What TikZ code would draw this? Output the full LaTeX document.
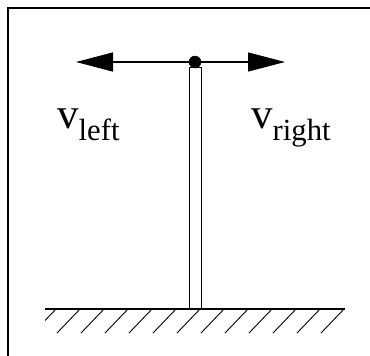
\documentclass[tikz,border=0pt]{standalone}
\usepackage{fontspec}
\setmainfont{Liberation Serif}
\usetikzlibrary{arrows.meta}
\begin{document}
\begin{tikzpicture}[x=1pt,y=-1pt,
  frameline/.style={line width=1.2pt},
  groundline/.style={line width=2pt},
  hatchline/.style={line width=0.9pt},
  poleline/.style={line width=0.9pt},
  velarrow/.style={line width=1.3pt,{Triangle[length=37pt,width=19pt]}-{Triangle[length=37pt,width=19pt]}},
  vlabel/.style={inner sep=0pt,anchor=base west,font=\fontsize{43}{43}\selectfont}]
\useasboundingbox (0,0) rectangle (370,356);
\fill[white] (0,0) rectangle (370,356);
% frame (cropped: top and left edges)
\coordinate (fbl) at (8,357);
\coordinate (ftl) at (8,8);
\coordinate (ftr) at (371,8);
\draw[frameline] (fbl) -- (ftl) -- (ftr);
% ground
\coordinate (gl) at (45,309);
\coordinate (gr) at (345,309);
\begin{scope}
\clip (45,300) rectangle (345,340);
\foreach \k in {0,...,12} {
  \draw[hatchline] ({56+24*\k},309) -- ({33+24*\k},333);
}
\end{scope}
\draw[groundline] (gl) -- (gr);
% pole
\node[draw,poleline,fill=white,minimum width=12pt,minimum height=241pt,inner sep=0pt,anchor=south] (pole) at (195,309) {};
% velocity arrow
\coordinate (lt) at (76,62);
\coordinate (rt) at (285,62);
\draw[velarrow] (lt) -- (rt);
\node[circle,fill=black,minimum size=12.5pt,inner sep=0pt] (dot) at (195,62) {};
% labels
\node[vlabel] (vleft) at (57,128) {v\raisebox{-12pt}{\fontsize{30.7}{30.7}\selectfont left}};
\node[vlabel] (vright) at (251,128) {v\raisebox{-12pt}{\fontsize{30.7}{30.7}\selectfont right}};
\end{tikzpicture}
\end{document}
